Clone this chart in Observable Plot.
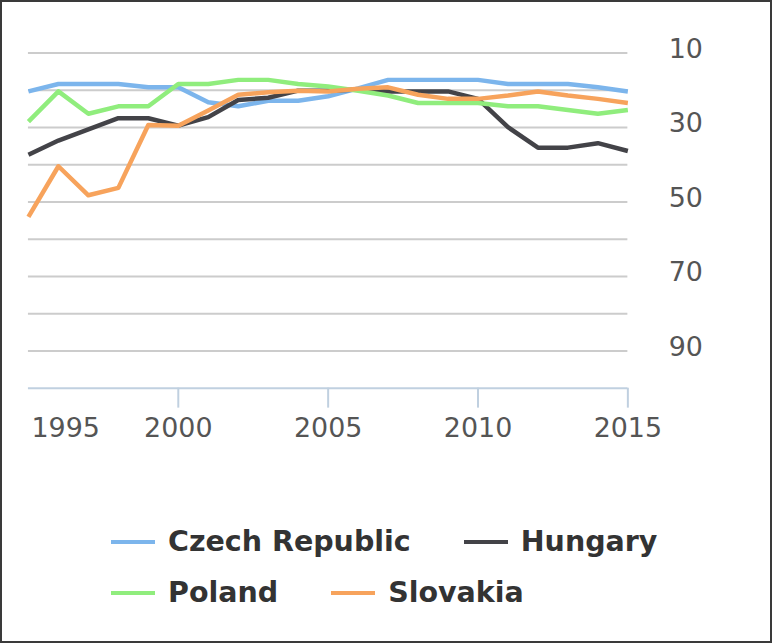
<!DOCTYPE html>
<html>
<head>
<meta charset="utf-8">
<script src="https://cdn.jsdelivr.net/npm/d3@7"></script>
<script src="https://cdn.jsdelivr.net/npm/@observablehq/plot@0.6"></script>
<style>
  html, body { margin: 0; padding: 0; background: #fff; }
  #frame { position: relative; width: 772px; height: 643px; box-sizing: border-box; border: 2px solid #3a3a3a; overflow: hidden; }
  #chart { position: absolute; left: -2px; top: -2px; }
  #legend { position: absolute; left: 109px; top: 514px; font-family: "DejaVu Sans", sans-serif; font-weight: bold; font-size: 28.5px; color: #333; }
  .row { display: flex; align-items: center; height: 51px; }
  .item { display: flex; align-items: center; margin-right: 53px; }
  .sym { width: 44px; height: 4px; margin-right: 13px; }
</style>
</head>
<body>
<div id="frame">
  <div id="chart"></div>
  <div id="legend"></div>
</div>
<script>
const years = [1995,1996,1997,1998,1999,2000,2001,2002,2003,2004,2005,2006,2007,2008,2009,2010,2011,2012,2013,2014,2015];
const czech    = [20.3,18.3,18.3,18.3,19.2,19.2,23.2,24.3,22.8,22.8,21.6,19.5,17.2,17.2,17.2,17.2,18.3,18.3,18.3,19.2,20.3];
const hungary  = [37.3,33.5,30.5,27.5,27.5,29.5,27.2,22.6,22.0,20.1,20.1,19.8,20.3,20.3,20.3,22.3,29.9,35.4,35.4,34.2,36.3];
const poland   = [28.4,20.3,26.3,24.3,24.3,18.3,18.3,17.2,17.2,18.3,19.0,20.1,21.4,23.4,23.4,23.4,24.3,24.3,25.3,26.3,25.3];
const slovakia = [54.0,40.4,48.2,46.2,29.3,29.5,25.4,21.2,20.5,20.1,20.3,19.6,19.2,21.2,22.3,22.3,21.4,20.3,21.4,22.3,23.4];
const seriesNames = ["Czech Republic","Hungary","Poland","Slovakia"];
const seriesColors = ["#7cb5ec","#434348","#90ed7d","#f7a35c"];
const seriesValues = [czech, hungary, poland, slovakia];
const gridValues = [10,20,30,40,50,60,70,80,90];
const yTickLabels = [10,30,50,70,90];
const xTicks = [2000,2005,2010,2015];
const firstXTick = [1995];

const data = [];
seriesNames.forEach((name, i) => {
  seriesValues[i].forEach((v, j) => data.push({country: name, year: years[j], rank: v}));
});

const chart = Plot.plot({
  width: 772,
  height: 460,
  marginTop: 52.7,
  marginBottom: 71.3,
  marginLeft: 28,
  marginRight: 143,
  style: {fontFamily: "DejaVu Sans, sans-serif", fontSize: "27px", background: "transparent"},
  x: {domain: [1995, 2015]},
  y: {domain: [10, 100], reverse: true},
  color: {domain: seriesNames, range: seriesColors},
  marks: [
    Plot.ruleY(gridValues, {stroke: "#cccccc", strokeWidth: 2}),
    Plot.ruleY([100], {stroke: "#c0d0e0", strokeWidth: 2}),
    Plot.axisY({anchor: "right", ticks: yTickLabels, tickSize: 0, tickPadding: 41, dy: -4, fill: "#555", label: null, fontSize: 27}),
    Plot.axisX({ticks: xTicks, tickSize: 20, tickPadding: 10, stroke: "#c0d0e0", strokeWidth: 2, strokeOpacity: 1, fill: "#555", tickFormat: d => String(d), label: null, fontSize: 27}),
    Plot.axisX({ticks: firstXTick, tickSize: 0, tickPadding: 30, textAnchor: "start", dx: 3, fill: "#555", tickFormat: d => String(d), label: null, fontSize: 27}),
    Plot.line(data, {x: "year", y: "rank", z: "country", stroke: "country", strokeWidth: 4.5, strokeLinejoin: "round", strokeLinecap: "butt"})
  ]
});
document.getElementById("chart").appendChild(chart);

const legend = document.getElementById("legend");
const rows = [[0,1],[2,3]];
rows.forEach(r => {
  const row = document.createElement("div");
  row.className = "row";
  r.forEach(i => {
    const item = document.createElement("div");
    item.className = "item";
    const sym = document.createElement("div");
    sym.className = "sym";
    sym.style.background = seriesColors[i];
    const label = document.createElement("span");
    label.textContent = seriesNames[i];
    item.appendChild(sym);
    item.appendChild(label);
    row.appendChild(item);
  });
  legend.appendChild(row);
});
</script>
</body>
</html>
